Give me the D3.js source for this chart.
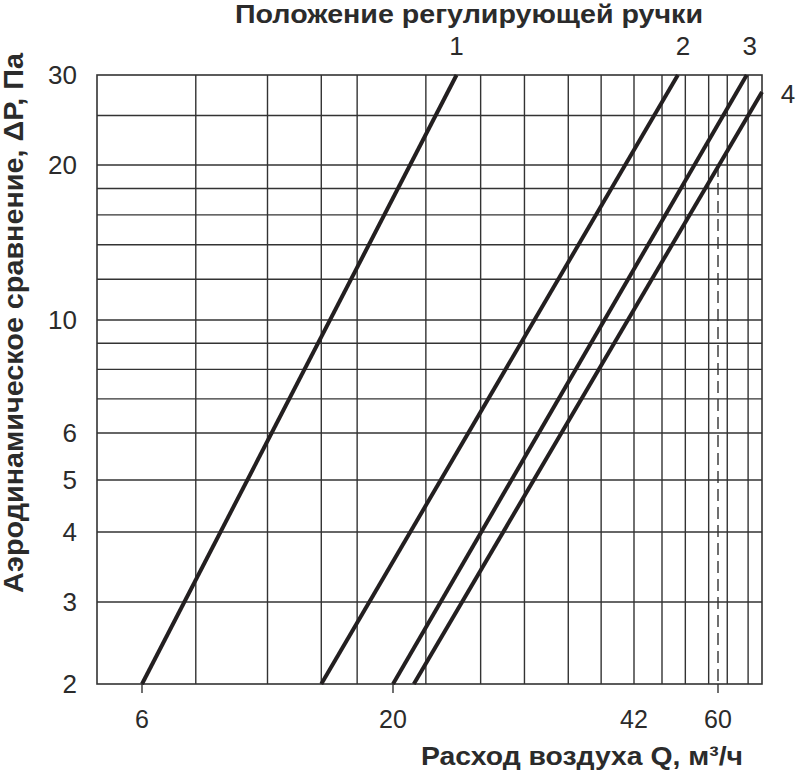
<html>
    <head>
        <title>Nomogram</title>
        <meta charset="utf-8">
        <script src="https://d3js.org/d3.v7.min.js" charset="utf-8"></script>
        <style>
            body { margin: 0; background: #fff; }
            text { font-family: "Liberation Sans", Arial, sans-serif; fill: #2b2b2b; }
        </style>
    </head>

    <body>
        <script type="text/javascript">

            // axis ticks
            var qTicks = [6, 20, 42, 60];
            var qTicked = [6, 20, 60];          // ones with a small mark under the frame
            var dpTicks = [2, 3, 4, 5, 6, 10, 20, 30];

            // grid lines (Q in m3/h, dP in Pa)
            var qGrid = [9, 13, 16, 18, 23, 28, 32, 36, 39, 42, 48, 53, 58, 62, 66.5];
            var dpGrid = [3, 4, 5, 6, 7, 8, 9, 10, 12, 14, 16, 18, 20, 25];

            // handle positions: each line goes from (qStart, dpStart) to (qEnd, dpEnd)
            var positions = ["1", "2", "3", "4"];
            var qStart = [6, 16, 20, 21.9];
            var dpStart = [2, 2, 2, 2];
            var qEnd = [25.8, 51.4, 66.2, 69.5];
            var dpEnd = [30, 30, 30, 27.8];

            // dashed marker at 60 m3/h
            var markQ = 60;
            var markDp = [20, 2];

            var w = 796;
            var h = 772;

            var svg = d3.select("body")
                        .append("svg")
                        .attr("width", w)
                        .attr("height", h);

            // the chart is hand drawn, so the Q axis is piecewise
            var x = d3.scaleLinear()
                      .domain([3.5, 6, 20, 42, 60, 69.5])
                      .range([97, 142, 393, 634, 718, 762]);

            var y = d3.scaleLog()
                      .domain([2, 3, 4, 5, 6, 10, 20, 30])
                      .range([684, 602, 532, 480, 433, 320, 165, 75]);

            var x0 = x(3.5), x1 = x(69.5);
            var y0 = y(2), y1 = y(30);

            // grid
            svg.selectAll("line.vgrid")
                .data(qGrid)
                .enter()
                .append("line")
                .attr("class", "vgrid")
                .attr("x1", function(d) { return x(d); })
                .attr("x2", function(d) { return x(d); })
                .attr("y1", y0)
                .attr("y2", y1)
                .attr("stroke", "#333")
                .attr("stroke-width", 1.4);

            svg.selectAll("line.hgrid")
                .data(dpGrid)
                .enter()
                .append("line")
                .attr("class", "hgrid")
                .attr("x1", x0)
                .attr("x2", x1)
                .attr("y1", function(d) { return y(d); })
                .attr("y2", function(d) { return y(d); })
                .attr("stroke", "#333")
                .attr("stroke-width", 1.4);

            // dashed marker
            svg.append("line")
                .attr("x1", x(markQ))
                .attr("x2", x(markQ))
                .attr("y1", y(markDp[0]))
                .attr("y2", y(markDp[1]))
                .attr("stroke", "#333")
                .attr("stroke-width", 1.4)
                .attr("stroke-dasharray", "12,6");

            // frame
            svg.append("rect")
                .attr("x", x0)
                .attr("y", y1)
                .attr("width", x1 - x0)
                .attr("height", y0 - y1)
                .attr("fill", "none")
                .attr("stroke", "#333")
                .attr("stroke-width", 1.6);

            // small marks under the frame
            svg.selectAll("line.tick")
                .data(qTicked)
                .enter()
                .append("line")
                .attr("class", "tick")
                .attr("x1", function(d) { return x(d); })
                .attr("x2", function(d) { return x(d); })
                .attr("y1", y0)
                .attr("y2", y0 + 9)
                .attr("stroke", "#333")
                .attr("stroke-width", 1.4);

            // handle lines
            var line = d3.line()
                         .x(function(d) { return x(d[0]); })
                         .y(function(d) { return y(d[1]); });

            svg.selectAll("path.pos")
                .data(positions)
                .enter()
                .append("path")
                .attr("class", "pos")
                .attr("d", function(d, i) {
                    return line([[qStart[i], dpStart[i]], [qEnd[i], dpEnd[i]]]);
                })
                .attr("fill", "none")
                .attr("stroke", "#231f20")
                .attr("stroke-width", 4);

            // handle labels
            var labelDx = [0, 5, 3, 26];
            svg.selectAll("text.pos")
                .data(positions)
                .enter()
                .append("text")
                .attr("class", "pos")
                .attr("x", function(d, i) { return x(qEnd[i]) + labelDx[i]; })
                .attr("y", function(d, i) { return i < 3 ? y(dpEnd[i]) - 20 : y(dpEnd[i]) + 11; })
                .attr("text-anchor", "middle")
                .style("font-size", "26px")
                .text(function(d) { return d; });

            // tick labels
            svg.selectAll("text.qtick")
                .data(qTicks)
                .enter()
                .append("text")
                .attr("class", "qtick")
                .attr("x", function(d) { return x(d); })
                .attr("y", 728)
                .attr("text-anchor", "middle")
                .style("font-size", "25px")
                .text(function(d) { return d; });

            svg.selectAll("text.dptick")
                .data(dpTicks)
                .enter()
                .append("text")
                .attr("class", "dptick")
                .attr("x", 77)
                .attr("y", function(d) { return y(d) + 9; })
                .attr("text-anchor", "end")
                .style("font-size", "26px")
                .text(function(d) { return d; });

            // titles
            svg.append("text")
                .attr("x", 469)
                .attr("y", 23)
                .attr("text-anchor", "middle")
                .attr("textLength", 468)
                .attr("lengthAdjust", "spacingAndGlyphs")
                .style("font-size", "25px")
                .style("font-weight", "bold")
                .text("Положение регулирующей ручки");

            svg.append("text")
                .attr("x", 582)
                .attr("y", 765)
                .attr("text-anchor", "middle")
                .attr("textLength", 322)
                .attr("lengthAdjust", "spacingAndGlyphs")
                .style("font-size", "26px")
                .style("font-weight", "bold")
                .text("Расход воздуха Q, м³/ч");

            svg.append("text")
                .attr("transform", "translate(23,323) rotate(-90)")
                .attr("text-anchor", "middle")
                .attr("textLength", 540)
                .attr("lengthAdjust", "spacingAndGlyphs")
                .style("font-size", "27px")
                .style("font-weight", "bold")
                .text("Аэродинамическое сравнение, ΔР, Па");

        </script>
    </body>

</html>
